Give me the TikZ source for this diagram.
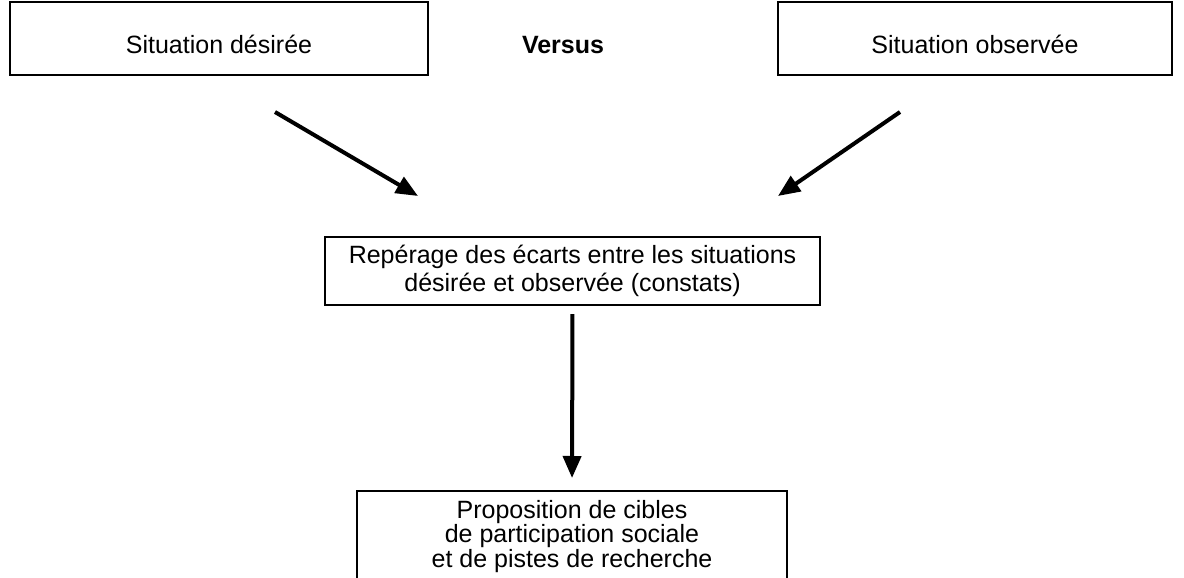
\documentclass[tikz,border=0pt]{standalone}
\usepackage{fontspec}
\setmainfont{Liberation Sans}
\usetikzlibrary{arrows.meta,calc}
\begin{document}
\begin{tikzpicture}[x=1pt,y=1pt,
  boxstyle/.style={draw=black,line width=2.4pt,inner sep=0pt,align=center,
    font=\fontsize{25}{27.5}\selectfont},
  arr/.style={line width=4pt,-{Triangle[length=22pt,width=18pt]}}]
\useasboundingbox (0,0) rectangle (1184,-578);
\clip (0,0) rectangle (1184,-578);
\fill[white] (0,0) rectangle (1184,-578);
\node[boxstyle,minimum width=418pt,minimum height=73pt] (b1) at (219,-38.5) {\raisebox{-15pt}[0pt][0pt]{Situation désirée}};
\node[boxstyle,minimum width=394pt,minimum height=73pt] (b2) at (975,-38.5) {\raisebox{-15pt}[0pt][0pt]{Situation observée}};
\node[font=\fontsize{25}{27.5}\selectfont\bfseries] (vs) at (563,-45) {Versus};
\node[boxstyle,minimum width=495pt,minimum height=68pt] (mid) at (572.5,-271) {Repérage des écarts entre les situations\\désirée et observée (constats)};
\node[boxstyle,anchor=north,minimum width=430pt,inner ysep=9pt,font=\fontsize{25}{24.5}\selectfont] (bot) at (572,-490) {Proposition de cibles\\de participation sociale\\et de pistes de recherche};
\coordinate (a1s) at (275,-112);
\coordinate (a1e) at (418,-196);
\coordinate (a2s) at (900,-112);
\coordinate (a2e) at (778,-196);
\draw[arr] (a1s) -- (a1e);
\draw[arr] (a2s) -- (a2e);
\draw[arr,shorten <=8pt,shorten >=12pt] (mid.south) -- (bot.north);
\end{tikzpicture}
\end{document}
